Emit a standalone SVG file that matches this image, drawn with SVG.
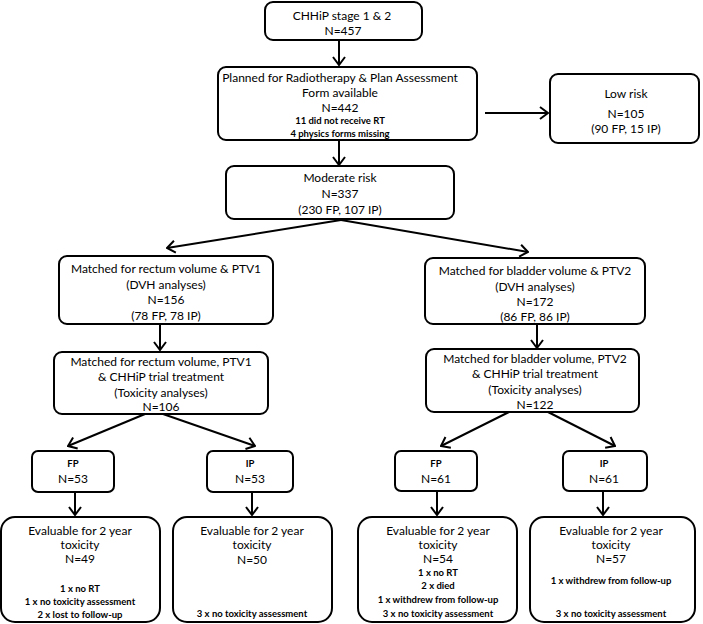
<svg xmlns="http://www.w3.org/2000/svg" width="703" height="624" viewBox="0 0 703 624">
<style>
.box{fill:#fff;stroke:#000;stroke-width:2}
.t{font-family:Lato,"Open Sans","Liberation Sans",sans-serif;font-size:12px;fill:#000;text-anchor:middle}
.s{font-family:Lato,"Open Sans","Liberation Sans",sans-serif;font-size:9.5px;font-weight:bold;fill:#000;text-anchor:middle}
.c{stroke:#000;stroke-width:2;fill:none}
</style>
<defs>
<marker id="ah" viewBox="0 0 10 14" refX="9" refY="7" markerWidth="10" markerHeight="14" markerUnits="userSpaceOnUse" orient="auto">
<path d="M1,1 L9,7 L1,13" fill="none" stroke="#000" stroke-width="2"/>
</marker>
</defs>
<rect width="703" height="624" fill="#fff"/>
<g id="connectors">
<line class="c" x1="339" y1="40" x2="339" y2="65" marker-end="url(#ah)"/>
<line class="c" x1="485" y1="113" x2="548" y2="113" marker-end="url(#ah)"/>
<line class="c" x1="339" y1="140" x2="339" y2="165" marker-end="url(#ah)"/>
<line class="c" x1="341" y1="220" x2="167" y2="248" marker-end="url(#ah)"/>
<line class="c" x1="341" y1="220" x2="528" y2="252" marker-end="url(#ah)"/>
<line class="c" x1="160" y1="324" x2="160" y2="350" marker-end="url(#ah)"/>
<line class="c" x1="537" y1="324" x2="537" y2="348" marker-end="url(#ah)"/>
<line class="c" x1="145" y1="414" x2="68" y2="446" marker-end="url(#ah)"/>
<line class="c" x1="163" y1="414" x2="255" y2="446" marker-end="url(#ah)"/>
<line class="c" x1="509" y1="412" x2="441" y2="446" marker-end="url(#ah)"/>
<line class="c" x1="548" y1="412" x2="615" y2="446" marker-end="url(#ah)"/>
<line class="c" x1="75" y1="492" x2="75" y2="515" marker-end="url(#ah)"/>
<line class="c" x1="252" y1="492" x2="252" y2="515" marker-end="url(#ah)"/>
<line class="c" x1="437" y1="491" x2="437" y2="515" marker-end="url(#ah)"/>
<line class="c" x1="603" y1="491" x2="603" y2="515" marker-end="url(#ah)"/>
</g>
<g id="n-chhip">
<rect class="box" x="265" y="2" width="157" height="38" rx="8"/>
<text class="t" x="342" y="19.5">CHHiP stage 1 &amp; 2</text>
<text class="t" x="343" y="34.5">N=457</text>
</g>
<g id="n-planned">
<rect class="box" x="218" y="67" width="259" height="73" rx="8"/>
<text class="t" x="340" y="81.5">Planned for Radiotherapy &amp; Plan Assessment</text>
<text class="t" x="340" y="96.5">Form available</text>
<text class="t" x="340" y="111.5">N=442</text>
<text class="s" x="340" y="123.5">11 did not receive RT</text>
<text class="s" x="340" y="136.5">4 physics forms missing</text>
</g>
<g id="n-low">
<rect class="box" x="550" y="74" width="149" height="69" rx="8"/>
<text class="t" x="626" y="97.5">Low risk</text>
<text class="t" x="626" y="117.5">N=105</text>
<text class="t" x="626" y="132.5">(90 FP, 15 IP)</text>
</g>
<g id="n-moderate">
<rect class="box" x="226" y="166" width="228" height="53" rx="8"/>
<text class="t" x="340" y="181.5">Moderate risk</text>
<text class="t" x="340" y="197.5">N=337</text>
<text class="t" x="340" y="214">(230 FP, 107 IP)</text>
</g>
<g id="n-rectum-dvh">
<rect class="box" x="59" y="256" width="214" height="68" rx="8"/>
<text class="t" x="166" y="272.5">Matched for rectum volume &amp; PTV1</text>
<text class="t" x="166" y="288.5">(DVH analyses)</text>
<text class="t" x="166" y="303.5">N=156</text>
<text class="t" x="166" y="319.5">(78 FP, 78 IP)</text>
</g>
<g id="n-bladder-dvh">
<rect class="box" x="425" y="258" width="220" height="66" rx="8"/>
<text class="t" x="535" y="274.5">Matched for bladder volume &amp; PTV2</text>
<text class="t" x="535" y="290.5">(DVH analyses)</text>
<text class="t" x="535" y="305.5">N=172</text>
<text class="t" x="535" y="320.5">(86 FP, 86 IP)</text>
</g>
<g id="n-rectum-tox">
<rect class="box" x="54" y="352" width="214" height="62" rx="8"/>
<text class="t" x="161" y="365.5">Matched for rectum volume, PTV1</text>
<text class="t" x="161" y="380.5">&amp; CHHiP trial treatment</text>
<text class="t" x="161" y="396.5">(Toxicity analyses)</text>
<text class="t" x="161" y="411">N=106</text>
</g>
<g id="n-bladder-tox">
<rect class="box" x="426" y="349" width="213" height="63" rx="8"/>
<text class="t" x="535" y="362.5">Matched for bladder volume, PTV2</text>
<text class="t" x="535" y="377.5">&amp; CHHiP trial treatment</text>
<text class="t" x="535" y="393.5">(Toxicity analyses)</text>
<text class="t" x="535" y="408.5">N=122</text>
</g>
<g id="n-fp1">
<rect class="box" x="32" y="451" width="82" height="41" rx="6"/>
<text class="s" x="73" y="467">FP</text>
<text class="t" x="73" y="482.5">N=53</text>
</g>
<g id="n-ip1">
<rect class="box" x="207" y="451" width="86" height="41" rx="6"/>
<text class="s" x="250" y="467">IP</text>
<text class="t" x="250" y="482.5">N=53</text>
</g>
<g id="n-fp2">
<rect class="box" x="395" y="451" width="82" height="40" rx="6"/>
<text class="s" x="436" y="467">FP</text>
<text class="t" x="436" y="482.5">N=61</text>
</g>
<g id="n-ip2">
<rect class="box" x="563" y="451" width="84" height="40" rx="6"/>
<text class="s" x="604" y="467">IP</text>
<text class="t" x="604" y="482.5">N=61</text>
</g>
<g id="n-eval1">
<rect class="box" x="1" y="517" width="159" height="105" rx="14"/>
<text class="t" x="80" y="535">Evaluable for 2 year</text>
<text class="t" x="80" y="549">toxicity</text>
<text class="t" x="80" y="563">N=49</text>
<text class="s" x="80" y="591.5">1 x no RT</text>
<text class="s" x="80" y="605">1 x no toxicity assessment</text>
<text class="s" x="80" y="617.5">2 x lost to follow-up</text>
</g>
<g id="n-eval2">
<rect class="box" x="173" y="517" width="159" height="105" rx="14"/>
<text class="t" x="252" y="535">Evaluable for 2 year</text>
<text class="t" x="252" y="549">toxicity</text>
<text class="t" x="252" y="564">N=50</text>
<text class="s" x="252" y="616.5">3 x no toxicity assessment</text>
</g>
<g id="n-eval3">
<rect class="box" x="358" y="517" width="159" height="105" rx="14"/>
<text class="t" x="438" y="535">Evaluable for 2 year</text>
<text class="t" x="438" y="549">toxicity</text>
<text class="t" x="438" y="563">N=54</text>
<text class="s" x="438" y="575.5">1 x no RT</text>
<text class="s" x="438" y="588.5">2 x died</text>
<text class="s" x="438" y="602.5">1 x withdrew from follow-up</text>
<text class="s" x="438" y="616.5">3 x no toxicity assessment</text>
</g>
<g id="n-eval4">
<rect class="box" x="530" y="517" width="165" height="105" rx="14"/>
<text class="t" x="611" y="535">Evaluable for 2 year</text>
<text class="t" x="611" y="549">toxicity</text>
<text class="t" x="611" y="563">N=57</text>
<text class="s" x="611" y="583.5">1 x withdrew from follow-up</text>
<text class="s" x="611" y="616.5">3 x no toxicity assessment</text>
</g>
</svg>
